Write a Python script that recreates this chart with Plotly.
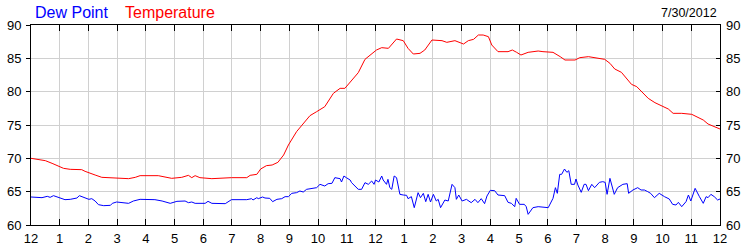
import pandas as pd
import plotly.graph_objects as go

DATE = "2012-07-30"

temp_times = ["00:00","00:13","00:30","00:44","01:00","01:08","01:22","01:46","01:53","02:00",
              "02:14","02:28","02:59","03:17","03:24","03:38","03:48","04:26","04:40","04:54",
              "05:15","05:29","05:36","05:43","05:53","06:18","06:59","07:31","07:38","07:52",
              "08:00","08:12","08:24","08:36","08:48","08:58","09:15","09:29","09:43","09:57",
              "10:14","10:32","10:46","10:56","11:10","11:24","11:38","11:52","12:02","12:13",
              "12:27","12:44","12:58","13:08","13:19","13:33","13:43","13:58","14:08","14:19",
              "14:29","14:46","15:04","15:14","15:25","15:35","15:45","15:56","16:03","16:16",
              "16:37","16:46","16:55","17:04","17:19","17:40","17:50","18:11","18:26","18:36",
              "18:57","19:07","19:25","19:35","19:42","19:59","20:10","20:20","20:34","20:45",
              "20:55","21:06","21:16","21:30","21:44","21:58","22:12","22:22","22:40","23:01",
              "23:11","23:25","23:35","23:49","24:00"]
temperature = [70.0,69.85,69.65,69.25,68.7,68.5,68.35,68.3,68.05,67.9,
               67.5,67.15,67.1,67.05,66.95,67.15,67.4,67.4,67.15,67.0,
               67.15,67.45,67.1,67.4,67.1,66.95,67.1,67.1,67.45,67.6,
               68.4,68.9,69.0,69.4,70.5,72.0,74.0,75.25,76.4,77.0,
               77.75,79.75,80.5,80.5,81.75,82.85,84.85,85.75,86.25,86.6,
               86.5,87.9,87.65,86.5,85.65,85.75,86.25,87.75,87.65,87.65,
               87.4,87.65,87.15,87.65,87.85,88.5,88.5,88.25,87.0,86.0,
               86.0,86.25,85.9,85.5,85.9,86.1,86.0,85.9,85.25,84.75,
               84.75,85.1,85.25,85.15,85.0,84.85,84.25,83.4,82.9,82.0,
               81.1,80.75,80.0,79.0,78.35,77.9,77.4,76.75,76.75,76.6,
               76.25,75.75,75.15,74.75,74.4]

dew_times = ["00:00","00:23","00:34","00:40","00:47","00:54","01:01","01:11","01:22","01:36",
             "01:41","01:50","02:01","02:07","02:14","02:21","02:32","02:46","02:50","02:59",
             "03:10","03:24","03:34","03:48","04:19","04:34","04:51","05:05","05:22","05:29",
             "05:36","05:43","06:04","06:10","06:18","06:46","06:59","07:31","07:41","07:44",
             "07:52","07:55","08:04","08:09","08:19","08:25","08:34","08:44","08:51","08:58",
             "09:05","09:15","09:22","09:29","09:36","09:46","09:57","10:04","10:14","10:21",
             "10:29","10:35","10:46","10:49","10:54","10:59","11:07","11:10","11:17","11:24",
             "11:31","11:38","11:45","11:52","11:57","12:00","12:07","12:13","12:16","12:23",
             "12:26","12:30","12:34","12:39","12:44","12:47","12:51","12:58","13:05","13:08",
             "13:15","13:21","13:29","13:34","13:40","13:45","13:50","13:55","14:01","14:07",
             "14:11","14:16","14:25","14:32","14:40","14:46","14:49","14:54","15:01","15:10",
             "15:20","15:28","15:34","15:41","15:48","15:53","16:00","16:09","16:16","16:30",
             "16:37","16:44","16:51","16:54","17:01","17:11","17:15","17:19","17:29","17:40",
             "18:01","18:11","18:16","18:20","18:25","18:29","18:35","18:40","18:44","18:49",
             "18:56","18:59","19:03","19:10","19:16","19:20","19:25","19:32","19:38","19:48",
             "19:55","20:00","20:04","20:10","20:16","20:19","20:26","20:37","20:46","20:49",
             "20:58","21:08","21:15","21:22","21:29","21:35","21:43","21:53","22:04","22:14",
             "22:21","22:28","22:33","22:40","22:49","22:54","22:59","23:08","23:17","23:25",
             "23:31","23:35","23:41","23:48","23:55","24:00"]
dew_point = [64.2,64.1,64.3,64.15,64.4,64.2,64.05,63.8,63.85,64.05,
             64.4,64.2,63.85,63.95,63.6,63.05,62.9,62.95,63.25,63.45,
             63.4,63.25,63.6,63.85,63.8,63.6,63.25,63.55,63.6,63.35,
             63.45,63.25,63.25,63.55,63.25,63.2,63.8,63.8,63.95,63.75,
             64.1,63.95,64.2,64.05,64.0,63.5,63.85,63.95,64.25,64.25,
             64.75,64.85,65.1,64.95,65.35,65.45,65.6,66.1,65.85,66.2,
             66.25,67.1,66.95,66.45,67.35,67.1,66.75,66.35,65.85,65.35,
             65.35,66.35,66.1,66.6,66.1,66.75,66.45,67.35,66.75,66.1,
             66.85,65.6,65.35,67.35,67.1,66.1,64.6,64.5,64.45,63.95,
             64.25,62.6,64.85,64.1,64.75,63.5,64.6,63.45,64.6,63.6,
             63.85,62.6,63.75,63.6,66.1,65.6,63.85,64.5,63.6,63.85,
             63.35,63.85,63.35,63.95,63.2,64.35,65.2,65.15,64.5,64.4,
             63.4,63.25,62.75,64.0,63.1,63.1,62.75,61.6,62.6,62.75,
             62.6,64.0,65.6,64.75,67.6,67.6,68.4,67.9,68.15,66.1,
             66.1,66.9,66.0,64.9,66.1,66.1,65.15,66.1,65.6,66.4,
             66.5,66.4,64.6,67.0,65.1,64.6,65.6,66.1,66.2,64.75,
             65.25,65.6,65.25,65.25,65.0,64.75,64.1,64.75,64.25,63.9,
             63.1,63.0,63.4,62.75,63.5,64.5,63.6,65.5,64.25,63.25,
             64.25,64.1,64.6,64.25,63.75,63.9]

y_ticks = [60, 65, 70, 75, 80, 85, 90]
legend_labels = ["Dew Point", "Temperature"]
date_label = "7/30/2012"


def to_dt(times):
    base = pd.Timestamp(DATE)
    out = []
    for t in times:
        h, m = t.split(":")
        out.append(base + pd.Timedelta(hours=int(h), minutes=int(m)))
    return out


FONT = "Arial, Liberation Sans, sans-serif"
GRID = "#d0d0d0"

fig = go.Figure()
fig.add_trace(go.Scatter(x=to_dt(dew_times), y=dew_point, mode="lines",
                         line=dict(color="#0000ff", width=1), name=legend_labels[0]))
fig.add_trace(go.Scatter(x=to_dt(temp_times), y=temperature, mode="lines",
                         line=dict(color="#ff0000", width=1), name=legend_labels[1]))
# invisible trace to carry the right-hand axis
fig.add_trace(go.Scatter(x=to_dt(["00:00"]), y=[y_ticks[0]], mode="markers",
                         marker=dict(opacity=0), yaxis="y2", hoverinfo="skip",
                         showlegend=False))

start = pd.Timestamp(DATE)
end = start + pd.Timedelta(days=1)

fig.update_layout(
    width=750, height=250,
    margin=dict(l=31, r=30, t=25, b=25),
    paper_bgcolor="white", plot_bgcolor="white",
    showlegend=False,
    font=dict(family=FONT, size=13, color="black"),
    xaxis=dict(
        type="date", range=[start, end], automargin=False,
        tick0=start, dtick=3600000, tickformat="%-I",
        showgrid=True, gridcolor=GRID, gridwidth=1,
        showline=True, linecolor="black", linewidth=1, mirror="ticks",
        ticks="inside", ticklen=6, tickcolor="black", tickwidth=1,
        ticklabelstandoff=1,
        tickfont=dict(family=FONT, size=13, color="black"),
        zeroline=False, fixedrange=True,
    ),
    yaxis=dict(
        range=[60, 90], tickvals=y_ticks, automargin=False,
        showgrid=True, gridcolor=GRID, gridwidth=1,
        showline=True, linecolor="black", linewidth=1, mirror=True,
        ticks="outside", ticklen=4, tickcolor="black",
        ticklabelstandoff=2,
        tickfont=dict(family=FONT, size=13, color="black"),
        zeroline=False,
    ),
    yaxis2=dict(
        range=[60, 90], tickvals=y_ticks, overlaying="y", side="right",
        automargin=False,
        showgrid=False, showline=False, zeroline=False,
        ticks="inside", ticklen=4, tickcolor="black",
        ticklabelstandoff=5,
        tickfont=dict(family=FONT, size=13, color="black"),
    ),
    annotations=[
        dict(text=legend_labels[0], x=(33 - 31) / 689, y=1 + (25 - 12) / 200,
             xref="paper", yref="paper", xanchor="left", yanchor="middle",
             showarrow=False, font=dict(family=FONT, size=16, color="#0000ff")),
        dict(text=legend_labels[1], x=(123 - 31) / 689, y=1 + (25 - 12) / 200,
             xref="paper", yref="paper", xanchor="left", yanchor="middle",
             showarrow=False, font=dict(family=FONT, size=16, color="#ff0000")),
        dict(text=date_label, x=(719 - 31) / 689, y=1 + (25 - 12.5) / 200,
             xref="paper", yref="paper", xanchor="right", yanchor="middle",
             showarrow=False, font=dict(family=FONT, size=12.5, color="black")),
    ],
)

fig.write_html("out.html")
